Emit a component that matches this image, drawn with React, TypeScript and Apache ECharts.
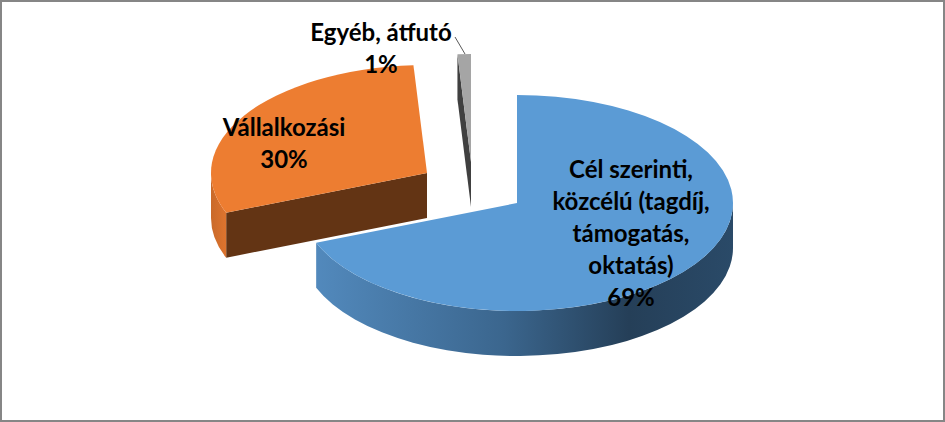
import React, { useEffect, useRef } from "react";
import * as echarts from "echarts";

const categories = ["Cél szerinti,\nközcélú (tagdíj,\ntámogatás,\noktatás)", "Vállalkozási", "Egyéb, átfutó"];
const values = [69, 30, 1];
const topColors = ["#5B9BD5", "#ED7D31", "#A5A5A5"];
const cutColors = ["#2F5A80", "#633414", "#404040"];
const apexes = [[517, 203], [427, 173], [471, 162]];
const labelAnchors = [[631, 168], [284, 126], [381, 31]];
const RX = 216;
const RY = 108;
const DEPTH = 45;
const LINE_HEIGHT = 32;

const total = values.reduce((a, b) => a + b, 0);
const pt = (c: number[], deg: number, dy = 0) => {
  const r = (deg * Math.PI) / 180;
  return [c[0] + RX * Math.sin(r), c[1] - RY * Math.cos(r) + dy];
};
const arcPath = (to: number[], sweep: number, large = 0) =>
  `A ${RX} ${RY} 0 ${large} ${sweep} ${to[0]} ${to[1]}`;

const sideGradient = (i: number) => {
  if (i === 0)
    return new echarts.graphic.LinearGradient(0, 0, 1, 0, [
      { offset: 0, color: "#5289BC" },
      { offset: 0.45, color: "#3B668E" },
      { offset: 0.75, color: "#253F58" },
      { offset: 1, color: "#2A4A68" },
    ]);
  if (i === 1)
    return new echarts.graphic.LinearGradient(0, 0, 1, 0, [
      { offset: 0, color: "#C96A2A" },
      { offset: 1, color: "#DE742E" },
    ]);
  return "#7C7C7C";
};

const renderSlice = (params: any, api: any) => {
  const i = api.value(0);
  const before = values.slice(0, i).reduce((a, b) => a + b, 0);
  const a0 = (before / total) * 360;
  const a1 = ((before + values[i]) / total) * 360;
  const c = apexes[i];
  const children: any[] = [];

  // front-facing cut face of the slices in the back-left quadrant
  if (i > 0) {
    const e = pt(c, a0);
    children.push({
      type: "polygon",
      shape: { points: [c, e, [e[0], e[1] + DEPTH], [c[0], c[1] + DEPTH]] },
      style: { fill: cutColors[i] },
    });
  }
  // visible outer rim: only the part between 90° and 270°
  const s0 = Math.max(a0, 90);
  const s1 = Math.min(a1, 270);
  if (s1 > s0) {
    const p0 = pt(c, s0);
    const p1 = pt(c, s1);
    const p1b = pt(c, s1, DEPTH);
    const p0b = pt(c, s0, DEPTH);
    const large = s1 - s0 > 180 ? 1 : 0;
    children.push({
      type: "path",
      shape: {
        pathData: `M ${p0[0]} ${p0[1]} ${arcPath(p1, 1, large)} L ${p1b[0]} ${p1b[1]} ${arcPath(p0b, 0, large)} Z`,
      },
      style: { fill: sideGradient(i) },
    });
  }
  // top face
  const t0 = pt(c, a0);
  const t1 = pt(c, a1);
  children.push({
    type: "path",
    shape: {
      pathData: `M ${c[0]} ${c[1]} L ${t0[0]} ${t0[1]} ${arcPath(t1, 1, a1 - a0 > 180 ? 1 : 0)} Z`,
    },
    style: { fill: topColors[i] },
  });
  return { type: "group", children };
};

const renderLabel = (params: any, api: any) => {
  const i = api.value(0);
  const a = labelAnchors[i];
  return {
    type: "text",
    x: a[0],
    y: a[1] - LINE_HEIGHT / 2,
    style: {
      text: `${categories[i]}\n${values[i]}%`,
      fill: "#000000",
      font: "bold 24px Lato, 'Open Sans', sans-serif",
      lineHeight: LINE_HEIGHT,
      align: "center",
      verticalAlign: "top",
    },
  };
};

const order = [2, 1, 0];

export default function App() {
  const ref = useRef<HTMLDivElement>(null);
  useEffect(() => {
    const chart = echarts.init(ref.current!, undefined, { renderer: "svg" });
    chart.setOption({
      animation: false,
      backgroundColor: "#FFFFFF",
      graphic: [
        {
          type: "rect",
          shape: { x: 1, y: 1, width: 943, height: 420 },
          style: { fill: "none", stroke: "#868686", lineWidth: 2 },
          silent: true,
          z: 10,
        },
        {
          type: "line",
          shape: { x1: 455, y1: 37, x2: 465, y2: 54 },
          style: { stroke: "#595959", lineWidth: 1 },
          silent: true,
          z: 10,
        },
      ],
      series: [
        {
          type: "custom",
          coordinateSystem: "none",
          data: order.map((i) => [i]),
          renderItem: renderSlice,
          silent: true,
          z: 2,
        },
        {
          type: "custom",
          coordinateSystem: "none",
          data: order.map((i) => [i]),
          renderItem: renderLabel,
          silent: true,
          z: 5,
        },
      ],
    });
    return () => chart.dispose();
  }, []);
  return <div ref={ref} style={{ position: "fixed", left: 0, top: 0, width: 945, height: 422 }} />;
}
